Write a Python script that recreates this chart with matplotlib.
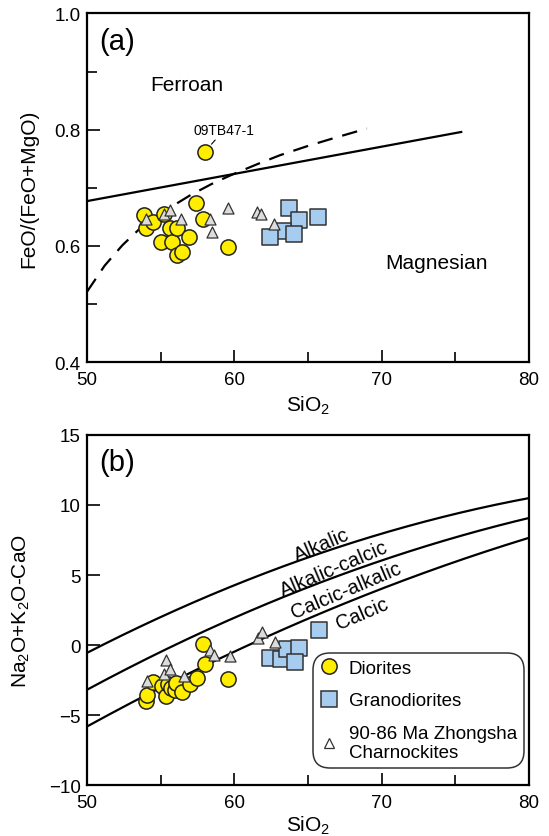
import numpy as np
import matplotlib
matplotlib.use("Agg")
from matplotlib import pyplot as plt
from matplotlib.lines import Line2D

plt.rcParams["font.family"] = ["Liberation Sans", "DejaVu Sans"]
plt.rcParams["mathtext.fontset"] = "custom"
plt.rcParams["mathtext.rm"] = "Liberation Sans"
plt.rcParams["mathtext.it"] = "Liberation Sans:italic"

# ---- panel (a): FeO/(FeO+MgO) vs SiO2 ----
dio_si_a = [53.9, 54.0, 54.5, 55.05, 55.25, 55.65, 55.8, 56.1, 56.1, 56.45, 56.9, 57.4, 57.85, 57.98, 59.6]
dio_fe_a = [0.653, 0.630, 0.641, 0.607, 0.654, 0.630, 0.607, 0.630, 0.584, 0.589, 0.615, 0.673, 0.646, 0.762, 0.598]
gra_si_a = [63.7, 64.4, 65.7, 63.3, 64.05, 62.45]
gra_fe_a = [0.665, 0.645, 0.650, 0.625, 0.621, 0.615]
cha_si_a = [54.0, 55.2, 55.6, 56.35, 58.35, 58.5, 59.6, 61.55, 61.8, 62.7]
cha_fe_a = [0.646, 0.655, 0.661, 0.647, 0.646, 0.624, 0.665, 0.658, 0.654, 0.638]

# ferroan/magnesian boundary (solid) and dashed curve
fm_si = [50.0, 75.4]
fm_val = [0.677, 0.796]
dash_si = [50.0, 51.2, 52.4, 53.6, 55.0, 57.0, 58.5, 59.8, 61.5, 63.1, 65.0, 66.7, 69.0]
dash_val = [0.521, 0.566, 0.601, 0.630, 0.656, 0.687, 0.707, 0.722, 0.740, 0.756, 0.772, 0.785, 0.802]

# ---- panel (b): MALI vs SiO2 ----
dio_si_b = [54.0, 54.1, 54.5, 55.1, 55.35, 55.5, 55.7, 55.95, 56.05, 56.45, 57.0, 57.45, 57.98, 57.9, 59.6]
dio_na_b = [-4.0, -3.57, -2.62, -2.9, -3.62, -2.75, -3.1, -3.2, -2.74, -3.33, -2.79, -2.33, -1.38, 0.07, -2.43]
gra_si_b = [65.75, 62.4, 63.2, 63.6, 64.4, 64.1]
gra_na_b = [1.07, -0.95, -1.02, -0.31, -0.24, -1.24]
cha_si_b = [54.05, 55.35, 55.25, 55.65, 56.55, 58.35, 58.6, 59.7, 61.6, 61.9, 62.75]
cha_na_b = [-2.55, -1.07, -2.07, -1.74, -2.21, -0.36, -0.71, -0.79, 0.52, 0.95, 0.24]

# MALI boundaries (Frost et al. 2001), quadratic coefficients c0 + c1*x + c2*x^2
mali_coefs = [(-41.86, 1.112, -0.00572),
              (-44.72, 1.094, -0.00527),
              (-45.36, 1.0043, -0.00427)]
mali_labels = ["Alkalic", "Alkalic-calcic", "Calcic-alkalic", "Calcic"]
mali_label_x = [65.9, 66.8, 67.6, 68.7]
mali_label_y = [7.15, 5.5, 3.95, 2.3]

yellow = "#FFEE00"
blue = "#A6CDF0"
grey = "#DCDCDC"

fig = plt.figure(figsize=(5.49, 8.37), dpi=100)
axA = fig.add_axes([0.1585, 0.5663, 0.805, 0.4164])
axB = fig.add_axes([0.1585, 0.0609, 0.805, 0.4182])


def style_axes(ax, xpad):
    for s in ax.spines.values():
        s.set_linewidth(1.6)
    ax.tick_params(which="both", direction="in", width=1.2,
                   labelsize=13.5, top=False, right=False, pad=4.5)
    ax.tick_params(axis="x", which="both", pad=6.7)
    ax.tick_params(which="major", length=9)
    ax.tick_params(which="minor", length=7)
    ax.set_xlim(50, 80)
    ax.set_xticks([50, 60, 70, 80])
    ax.set_xticks([55, 65, 75], minor=True)
    ax.set_xlabel("SiO$_2$", fontsize=15, labelpad=xpad)


def draw_points(ax, dsi, dv, gsi, gv, csi, cv):
    ax.scatter(dsi, dv, s=120, c=yellow, edgecolors="#222222", linewidths=1.1, zorder=3)
    ax.scatter(gsi, gv, s=120, marker="s", c=blue, edgecolors="#333333", linewidths=1.1, zorder=3)
    ax.scatter(csi, cv, s=63, marker="^", c=grey, edgecolors="#333333", linewidths=0.9, zorder=4)


# panel (a)
style_axes(axA, 4)
axA.set_ylim(0.4, 1.0)
axA.set_yticks([0.4, 0.6, 0.8, 1.0])
axA.set_yticks([0.5, 0.7, 0.9], minor=True)
axA.set_ylabel("FeO/(FeO+MgO)", fontsize=15, labelpad=12)
axA.plot(fm_si, fm_val, color="black", lw=1.6, zorder=2)
axA.plot(dash_si, dash_val, color="black", lw=1.6, dashes=(7, 4.5), zorder=2)
draw_points(axA, dio_si_a, dio_fe_a, gra_si_a, gra_fe_a, cha_si_a, cha_fe_a)
axA.text(52.05, 0.952, "(a)", fontsize=21, va="center", ha="center")
axA.text(56.8, 0.878, "Ferroan", fontsize=15, va="center", ha="center")
axA.text(73.7, 0.572, "Magnesian", fontsize=15, va="center", ha="center")
axA.annotate("09TB47-1", xy=(58.45, 0.775), xytext=(59.3, 0.799),
             fontsize=10, ha="center", va="center",
             arrowprops=dict(arrowstyle="-", lw=0.8, color="black",
                             shrinkA=6, shrinkB=0))

# panel (b)
style_axes(axB, 1.5)
axB.set_ylim(-10, 15)
axB.set_yticks([-10, -5, 0, 5, 10, 15])
axB.set_ylabel("Na$_2$O+K$_2$O-CaO", fontsize=15, labelpad=12)
xs = np.linspace(50, 80, 200)
for c0, c1, c2 in mali_coefs:
    axB.plot(xs, c0 + c1 * xs + c2 * xs ** 2, color="black", lw=1.6, zorder=2)
for lab, lx, ly in zip(mali_labels, mali_label_x, mali_label_y):
    axB.text(lx, ly, lab, fontsize=14.5, rotation=23, rotation_mode="anchor",
             ha="center", va="center")
draw_points(axB, dio_si_b, dio_na_b, gra_si_b, gra_na_b, cha_si_b, cha_na_b)
axB.text(52.05, 13.1, "(b)", fontsize=21, va="center", ha="center")

handles = [
    Line2D([], [], ls="none", marker="o", ms=11, mfc=yellow, mec="#222222", mew=1.1),
    Line2D([], [], ls="none", marker="s", ms=11, mfc=blue, mec="#333333", mew=1.1),
    Line2D([], [], ls="none", marker="^", ms=7, mfc="white", mec="#333333", mew=0.9),
]
leg = axB.legend(handles, ["Diorites", "Granodiorites", "90-86 Ma Zhongsha\nCharnockites"],
                 loc="upper left", bbox_to_anchor=(0.511, 0.377), fontsize=13.5,
                 frameon=True, fancybox=True, handletextpad=0.57, labelspacing=0.82,
                 borderpad=0.35, handlelength=1.0, borderaxespad=0)
leg.get_frame().set_edgecolor("black")
leg.get_frame().set_linewidth(1.1)
leg.get_frame().set_boxstyle("round,pad=0,rounding_size=0.9")

fig.savefig("out.png", dpi=100)
